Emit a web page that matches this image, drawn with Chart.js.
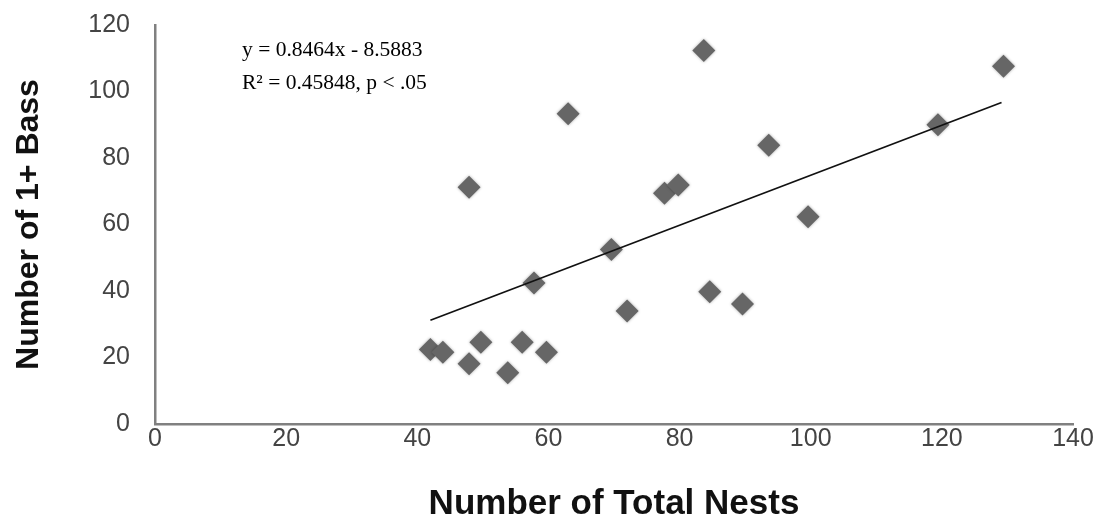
<!DOCTYPE html>
<html>
<head>
<meta charset="utf-8">
<script src="https://cdn.jsdelivr.net/npm/chart.js@4/dist/chart.umd.min.js"></script>
<style>
  html, body { margin: 0; padding: 0; background: #fff; }
  #wrap { width: 1095px; height: 527px; position: relative; }
</style>
</head>
<body>
<div id="wrap"><canvas id="chart" width="1095" height="527"></canvas></div>
<script>
// values
const totalNests = [42.0, 43.9, 47.9, 49.7, 47.9, 53.8, 56.0, 57.8, 59.7, 63.0, 69.6, 72.0, 77.7, 79.8, 83.7, 84.6, 89.6, 93.6, 99.6, 119.4, 129.4];
const bass = [22.4, 21.6, 18.1, 24.6, 71.2, 15.4, 24.6, 42.4, 21.6, 93.3, 52.5, 34.0, 69.4, 71.9, 112.3, 39.8, 36.1, 83.8, 62.3, 90.0, 107.6];

// trend line ends as drawn
const trendX = [42.0, 129.1];
const trendY = [31.2, 96.7];

const xTicks = [0, 20, 40, 60, 80, 100, 120, 140];
const yTicks = [0, 20, 40, 60, 80, 100, 120];

const equationLines = ['y = 0.8464x - 8.5883', 'R² = 0.45848, p < .05'];

const xTitle = 'Number of Total Nests';
const yTitle = 'Number of 1+ Bass';

const points = totalNests.map((x, i) => ({ x: x, y: bass[i] }));
const trend = trendX.map((x, i) => ({ x: x, y: trendY[i] }));

// soft edge on the diamonds
const softMarks = {
    id: 'softMarks',
    beforeDatasetDraw(chart, args) {
        if (args.index === 0) {
            chart.ctx.save();
            chart.ctx.shadowColor = 'rgba(0,0,0,0.35)';
            chart.ctx.shadowBlur = 3;
        }
    },
    afterDatasetDraw(chart, args) {
        if (args.index === 0) chart.ctx.restore();
    }
};

// equation text in the upper left
const equation = {
    id: 'equation',
    afterDraw(chart) {
        const ctx = chart.ctx;
        ctx.save();
        ctx.fillStyle = '#000';
        ctx.font = '21.5px "Liberation Serif", serif';
        ctx.textBaseline = 'middle';
        ctx.textAlign = 'left';
        equationLines.forEach((t, i) => ctx.fillText(t, 242, 50 + i * 33));
        ctx.restore();
    }
};

const family = '"Liberation Sans", Arial, sans-serif';
const tickFont = { family: family, size: 25 };

new Chart(document.getElementById('chart'), {
    type: 'scatter',
    data: {
        datasets: [{
            data: points,
            pointStyle: 'rectRot',
            pointRadius: 11.5,
            pointHoverRadius: 11.5,
            backgroundColor: '#666666',
            borderWidth: 0,
            order: 1
        }, {
            type: 'line',
            data: trend,
            borderColor: '#111',
            borderWidth: 1.8,
            pointRadius: 0,
            fill: false,
            order: 0
        }]
    },
    options: {
        responsive: false,
        animation: false,
        layout: { padding: { left: 10, right: 22, top: 25, bottom: 2 } },
        plugins: {
            legend: { display: false },
            tooltip: { enabled: false }
        },
        scales: {
            x: {
                type: 'linear',
                min: 0,
                max: 140,
                afterBuildTicks: s => { s.ticks = xTicks.map(v => ({ value: v })); },
                afterFit: s => { s.height = 101; },
                grid: { color: 'transparent', drawTicks: false },
                border: { display: true, color: '#808080', width: 2.5 },
                ticks: { color: '#444', font: tickFont, padding: 0, maxRotation: 0 },
                title: { display: true, text: xTitle, color: '#111', font: { family: family, size: 35, weight: 'bold' }, padding: { top: 0, bottom: 0 } }
            },
            y: {
                type: 'linear',
                min: 0,
                max: 120,
                afterBuildTicks: s => { s.ticks = yTicks.map(v => ({ value: v })); },
                afterFit: s => {
                    s.width = 145;
                    // the big tick padding should not push the plot down
                    s.paddingTop = 10;
                    s.paddingBottom = 10;
                },
                grid: { color: 'transparent', drawTicks: false },
                border: { display: true, color: '#808080', width: 2.5 },
                ticks: { color: '#444', font: tickFont, padding: 25 },
                title: { display: true, text: yTitle, color: '#111', font: { family: family, size: 32, weight: 'bold' }, padding: { top: 0, bottom: 0 } }
            }
        }
    },
    plugins: [softMarks, equation]
});
</script>
</body>
</html>
